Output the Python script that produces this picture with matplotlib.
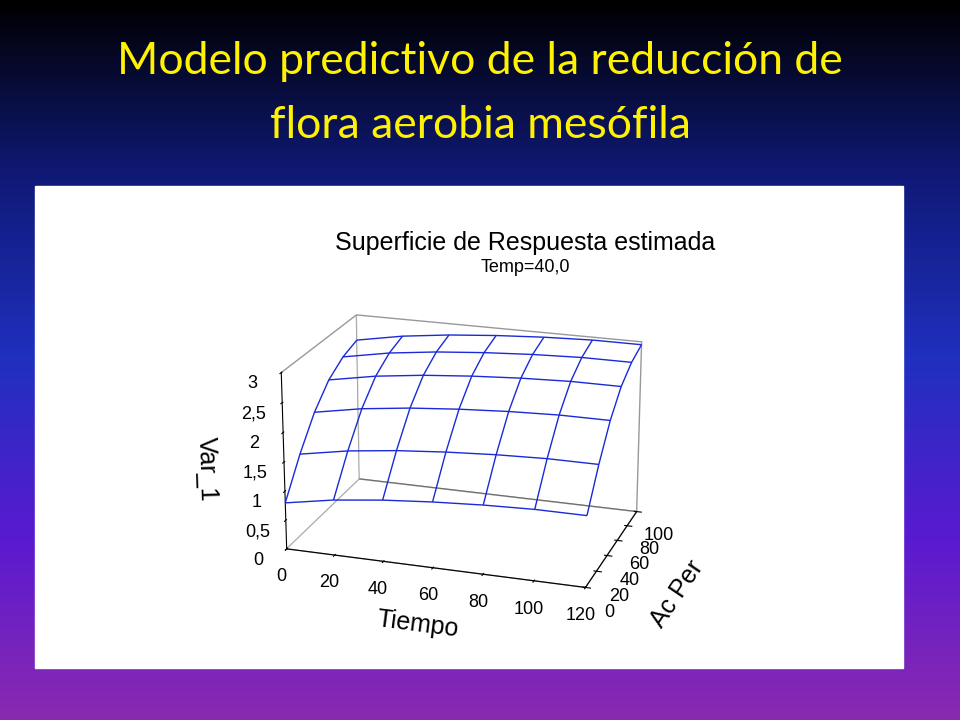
import numpy as np
import matplotlib
matplotlib.use("Agg")
import matplotlib.pyplot as plt
from matplotlib.colors import LinearSegmentedColormap

tiempo = [0, 20, 40, 60, 80, 100, 120]
acper = [0, 20, 40, 60, 80, 100]
var1 = [
    [0.80, 0.95, 1.05, 1.12, 1.17, 1.20, 1.20],
    [1.40, 1.55, 1.65, 1.72, 1.77, 1.80, 1.80],
    [1.90, 2.05, 2.15, 2.22, 2.27, 2.30, 2.30],
    [2.25, 2.40, 2.50, 2.57, 2.62, 2.65, 2.65],
    [2.45, 2.60, 2.70, 2.77, 2.82, 2.85, 2.85],
    [2.55, 2.70, 2.80, 2.87, 2.92, 2.95, 2.95],
]
z_ticks = [0, 0.5, 1, 1.5, 2, 2.5, 3]
z_labels = ["0", "0,5", "1", "1,5", "2", "2,5", "3"]

fig = plt.figure(figsize=(9.6, 7.2), dpi=100)
bg = fig.add_axes([0, 0, 1, 1])
cmap = LinearSegmentedColormap.from_list("bg", ["#000000", "#101a7a", "#2030c0", "#5a1ad0", "#8a2ab0"])
bg.imshow(np.linspace(0, 1, 256).reshape(-1, 1), aspect="auto", cmap=cmap, extent=[0, 1, 0, 1])
bg.set_xlim(0, 1); bg.set_ylim(0, 1); bg.axis("off")
bg.add_patch(plt.Rectangle((35/960, 1-668/720), 868/960, 482/720, color="white"))
fig.text(0.5, 1-62/720, "Modelo predictivo de la reducción de", ha="center", va="center",
         color="#FFF200", fontsize=32, family="Lato")
fig.text(0.5, 1-125/720, "flora aerobia mesófila", ha="center", va="center",
         color="#FFF200", fontsize=32, family="Lato")
fig.text(525/960, 1-243/720, "Superficie de Respuesta estimada", ha="center", va="center",
         fontsize=18, family="Liberation Sans")
fig.text(525/960, 1-268/720, "Temp=40,0", ha="center", va="center", fontsize=13,
         family="Liberation Sans")

ax = fig.add_axes([60/960, 1-650/720, 800/960, 400/720], projection="3d")
T, A = np.meshgrid(tiempo, acper)
ax.plot_wireframe(T, A, np.array(var1), color="#1a2ad8", linewidth=1.0)
ax.set_xlim(0, 120); ax.set_ylim(0, 100); ax.set_zlim(0, 3)
ax.set_xticks(tiempo); ax.set_yticks(acper)
ax.set_zticks(z_ticks); ax.set_zticklabels(z_labels)
for lab in ax.get_xticklabels() + ax.get_yticklabels() + ax.get_zticklabels():
    lab.set_family("Liberation Sans")
ax.set_xlabel("Tiempo", fontsize=18, labelpad=12, family="Liberation Sans")
ax.set_ylabel("Ac Per", fontsize=18, labelpad=12, family="Liberation Sans")
ax.set_zlabel("Var_1", fontsize=18, labelpad=10, family="Liberation Sans")
ax.tick_params(labelsize=13)
try:
    ax.zaxis.set_ticks_position("lower")
    ax.zaxis.set_label_position("lower")
except Exception:
    pass
for a in (ax.xaxis, ax.yaxis, ax.zaxis):
    a.pane.set_facecolor("white"); a.pane.set_edgecolor("#333333")
ax.grid(False)
ax.view_init(elev=20, azim=-72)
ax.set_box_aspect((1.5, 1.0, 0.9))
fig.savefig("out.png", dpi=100)
